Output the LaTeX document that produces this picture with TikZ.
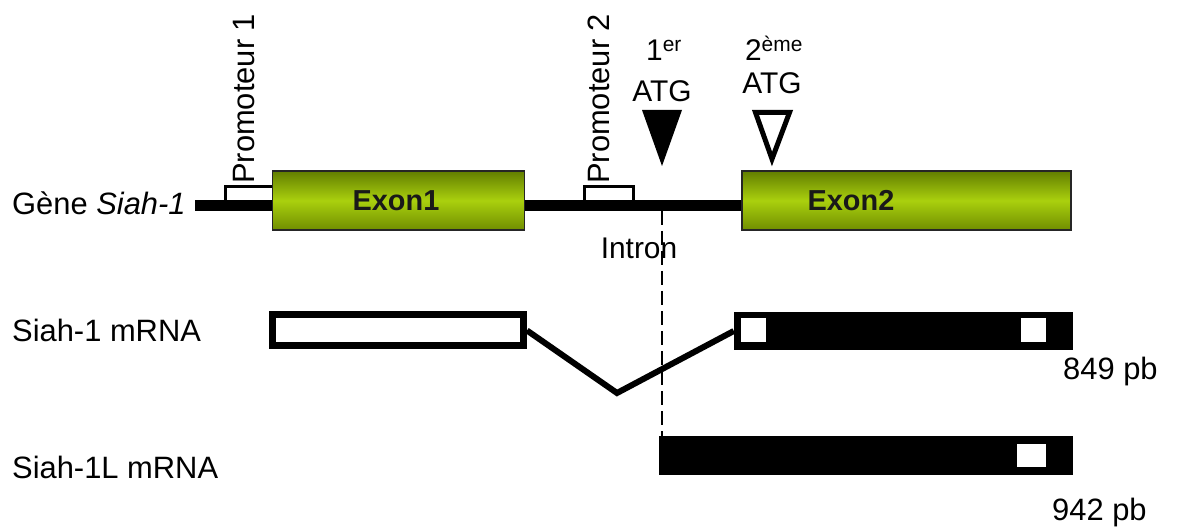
\documentclass[tikz,border=0pt]{standalone}
\usepackage{fontspec}
\setmainfont{Liberation Sans}
\definecolor{olivetop}{RGB}{98,126,0}
\definecolor{olivebot}{RGB}{112,142,0}
\definecolor{olivemid}{RGB}{170,208,14}
\begin{document}
\begin{tikzpicture}[x=1bp,y=-1bp,
  txt/.style={inner sep=0pt,font=\fontsize{30}{36}\selectfont},
  btxt/.style={inner sep=0pt,font=\fontsize{31}{37}\selectfont},
  exon/.style={draw=black!85,line width=1.5bp,minimum height=59bp,inner sep=0pt,
    top color=olivetop, bottom color=olivebot, middle color=olivemid,
    font=\bfseries\fontsize{29}{34}\selectfont, text=black!90},
  promo/.style={draw=black,fill=white,line width=3bp},
  mrnaw/.style={draw=black,fill=white,line width=7bp,inner sep=0pt},
  mrnab/.style={fill=black,inner sep=0pt},
  hole/.style={fill=white,inner sep=0pt}
]
\useasboundingbox (0,0) rectangle (1189,531);
% promoter boxes
\draw[promo] (225,187) rectangle (273,206);
\draw[promo] (584,187) rectangle (633,206);
% gene line
\coordinate (gs) at (195,205.5);
\coordinate (ge) at (742,205.5);
\draw[line width=11bp] (gs) -- (ge);
% exons
\node[exon,minimum width=252bp] (ex1) at (398.5,200.5) {\hspace*{-5bp}Exon1};
\node[exon,minimum width=329bp] (ex2) at (906.5,200.5) {\hspace*{-111bp}Exon2};
% promoter labels
\node[btxt,rotate=90,anchor=base west] (p1) at (254,184) {Promoteur 1};
\node[btxt,rotate=90,anchor=base west] (p2) at (609,184) {Promoteur 2};
% ATG labels
\node[txt] (n1) at (664,50) {1\textsuperscript{er}};
\node[txt] (a1) at (662,91) {ATG};
\node[txt] (n2) at (774,48) {2\textsuperscript{ème}};
\node[txt] (a2) at (772,83) {ATG};
\fill[black] (642,110) -- (682,110) -- (662,166) -- cycle;
\draw[line width=5bp,fill=white,miter limit=20] (755.5,112.5) -- (789.5,112.5) -- (772,159) -- cycle;
% left labels
\node[btxt,anchor=west] (g) at (12,203) {Gène \textit{Siah-1}};
\node[btxt,anchor=west] (l1) at (12,330) {Siah-1 mRNA};
\node[btxt,anchor=west] (l2) at (12,467) {Siah-1L mRNA};
\node[txt] (intron) at (639,248) {Intron};
% mRNA
\node[mrnaw,minimum width=251bp,minimum height=31bp] (m1a) at (398,330.5) {};
\node[mrnab,minimum width=339bp,minimum height=38bp] (m1b) at (903.5,331) {};
\node[hole,minimum width=25bp,minimum height=24bp] (h1) at (753.5,330) {};
\node[hole,minimum width=25bp,minimum height=24bp] (h2) at (1033.5,330) {};
\node[mrnab,minimum width=414bp,minimum height=39bp] (m2) at (866,455.5) {};
\node[hole,minimum width=29bp,minimum height=23bp] (h3) at (1031.5,455.5) {};
\coordinate (apex) at (617,393);
\draw[line width=6bp] (m1a.east) -- (apex) -- (m1b.west);
\coordinate (ds) at (662,211);
\draw[line width=1.3bp,dash pattern=on 14bp off 6bp] (ds) -- (ds |- m2.north);
\node[btxt,anchor=west] (s1) at (1063,372) {849 pb};
\node[btxt,anchor=west] (s2) at (1052,513) {942 pb};
\end{tikzpicture}
\end{document}
